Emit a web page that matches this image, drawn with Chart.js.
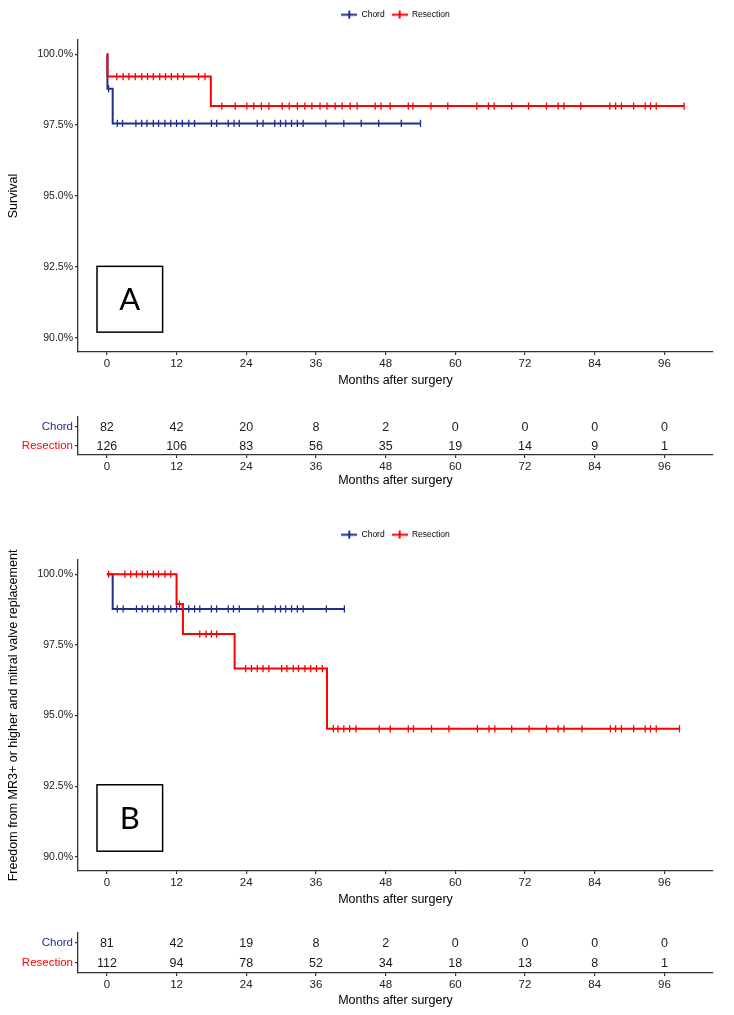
<!DOCTYPE html>
<html>
<head>
<meta charset="utf-8">
<script src="https://cdn.jsdelivr.net/npm/chart.js@4.4.1/dist/chart.umd.min.js"></script>
<style>
  html, body { margin: 0; padding: 0; background: #fff; }
  #page { position: relative; width: 734px; height: 1015px; overflow: hidden; background: #fff; }
  #page canvas { position: absolute; left: 0; }
</style>
</head>
<body>
<div id="page">
  <canvas id="km-a" width="734" height="395" style="top:0px"></canvas>
  <canvas id="risk-a" width="734" height="100" style="top:395px"></canvas>
  <canvas id="km-b" width="734" height="418" style="top:496px"></canvas>
  <canvas id="risk-b" width="734" height="105" style="top:910px"></canvas>
</div>
<script>
// ---- data ----
const groups = ["Chord", "Resection"];
const xTicks = [0, 12, 24, 36, 48, 60, 72, 84, 96];
const yTicks = [90, 92.5, 95, 97.5, 100];

// panel A: survival
const chordA_time = [0, 0.1, 1.0, 54.0];
const chordA_surv = [100, 98.78, 97.56, 97.56];
const chordA_cens = [0.3, 1.8, 2.7, 5.0, 6.0, 6.9, 8.0, 8.9, 10.0, 11.0, 12.0, 13.0, 14.1, 15.1, 18.0, 18.9,
  20.9, 21.9, 22.8, 25.9, 26.9, 28.9, 29.9, 30.8, 31.8, 32.8, 33.8, 37.7, 40.8, 43.8, 46.8, 50.7, 54.0];
const resA_time = [0, 0.1, 17.9, 99.4];
const resA_surv = [100, 99.21, 98.17, 98.17];
const resA_cens = [1.7, 2.8, 3.8, 4.9, 6.0, 7.0, 8.0, 9.1, 10.1, 11.1, 12.2, 13.2, 15.8, 16.9,
  19.8, 22.1, 24.1, 25.3, 26.6, 27.9, 30.2, 31.4, 32.8, 34.1, 35.3, 36.7, 37.9, 39.3, 40.5, 41.9, 43.1,
  46.2, 47.2, 48.8, 51.9, 52.7, 55.8, 58.7, 63.7, 65.7, 66.7, 69.7, 72.6, 75.7, 77.7, 78.7, 81.6,
  86.6, 87.6, 88.6, 90.7, 92.7, 93.6, 94.6, 99.4];
const chordA_risk = [82, 42, 20, 8, 2, 0, 0, 0, 0];
const resA_risk = [126, 106, 83, 56, 35, 19, 14, 9, 1];

// panel B: freedom from MR3+ or valve replacement
const chordB_time = [0, 1.0, 40.9];
const chordB_surv = [100, 98.77, 98.77];
const chordB_cens = [1.8, 2.8, 5.1, 6.1, 7.0, 8.0, 8.9, 10.0, 11.0, 12.0, 13.0, 14.1, 15.1, 16.0, 18.0, 18.9,
  20.9, 21.8, 22.8, 26.0, 26.9, 29.0, 29.9, 30.8, 31.8, 32.8, 33.8, 37.8, 40.9];
const resB_time = [0, 12.0, 13.1, 22.0, 37.9, 98.6];
const resB_surv = [100, 98.94, 97.88, 96.66, 94.53, 94.53];
const resB_cens = [0.3, 3.1, 4.1, 5.1, 6.1, 7.0, 8.0, 8.9, 10.0, 11.0, 12.5, 16.0, 17.1, 18.0, 18.9,
  23.9, 24.9, 25.9, 26.9, 27.9, 30.1, 31.0, 32.1, 33.0, 34.1, 35.1, 36.1, 37.1,
  39.0, 39.8, 40.8, 41.8, 42.9, 46.9, 48.8, 51.9, 52.8, 55.9, 58.9, 63.8, 65.8, 66.8, 69.7, 72.7,
  75.7, 77.7, 78.7, 81.8, 86.7, 87.6, 88.6, 90.7, 92.7, 93.6, 94.6, 98.6];
const chordB_risk = [81, 42, 19, 8, 2, 0, 0, 0, 0];
const resB_risk = [112, 94, 78, 52, 34, 18, 13, 8, 1];

// ---- look ----
const BLUE = "#1f2e8e";
const RED = "#ff0000";
const AXIS = "#333333";
const FONT = "'Liberation Sans', Arial, sans-serif";
const X_MIN = -4.97, X_MAX = 104.37;

function stepPoints(t, s) {
  return t.map((x, i) => ({ x: x, y: s[i] }));
}
function survAt(t, s, x) {
  let v = s[0];
  for (let i = 0; i < t.length; i++) if (t[i] <= x) v = s[i];
  return v;
}
function censPoints(t, s, c) {
  return c.map(x => ({ x: x, y: survAt(t, s, x) }));
}
function legendIcon(color) {
  const c = document.createElement("canvas");
  c.width = 16; c.height = 9;
  const g = c.getContext("2d");
  g.strokeStyle = color; g.lineWidth = 2;
  g.beginPath();
  g.moveTo(0, 4.5); g.lineTo(16, 4.5);
  g.moveTo(8, 0.5); g.lineTo(8, 8.5);
  g.stroke();
  return c;
}

const xAxis = (height) => ({
  type: "linear",
  min: X_MIN, max: X_MAX,
  afterBuildTicks: s => { s.ticks = xTicks.map(v => ({ value: v })); },
  afterFit: s => { s.height = height; },
  ticks: { color: "#1a1a1a", font: { family: FONT, size: 11.5 }, padding: 2, maxRotation: 0, autoSkip: false },
  grid: { drawOnChartArea: false, drawTicks: true, tickLength: 3, color: AXIS, lineWidth: 1.2 },
  border: { display: true, color: AXIS, width: 1.3 },
  title: { display: true, text: "Months after surgery", color: "#000", font: { family: FONT, size: 12.5 }, padding: { top: 0, bottom: 7 } }
});

// leaves extra room under the legend, like the ggplot layout
const legendGap = {
  id: "legendGap",
  beforeLayout(chart, args, opts) {
    const lg = chart.legend;
    if (!lg || lg._gapWrapped) return;
    const fit = lg.fit.bind(lg);
    lg.fit = function () { fit(); this.height += (opts.extra || 0); };
    lg._gapWrapped = true;
  }
};

// draws the boxed panel letter in data space
const panelBox = {
  id: "panelBox",
  afterDatasetsDraw(chart, args, opts) {
    if (!opts || !opts.text) return;
    const { x, y } = chart.scales;
    const ctx = chart.ctx;
    const l = x.getPixelForValue(opts.x0), r = x.getPixelForValue(opts.x1);
    const t = y.getPixelForValue(opts.y1), b = y.getPixelForValue(opts.y0);
    ctx.save();
    ctx.strokeStyle = "#000"; ctx.lineWidth = 1.5;
    ctx.strokeRect(l, t, r - l, b - t);
    ctx.fillStyle = "#000";
    ctx.font = "31px Lato, 'Open Sans', sans-serif";
    ctx.textAlign = "center"; ctx.textBaseline = "middle";
    ctx.fillText(opts.text, (l + r) / 2, (t + b) / 2 + 1);
    ctx.restore();
  }
};

// writes the at-risk counts on the points of the risk table
const riskNumbers = {
  id: "riskNumbers",
  afterDatasetsDraw(chart) {
    const ctx = chart.ctx;
    ctx.save();
    ctx.fillStyle = "#1a1a1a";
    ctx.font = "12.5px " + FONT;
    ctx.textAlign = "center"; ctx.textBaseline = "middle";
    chart.data.datasets.forEach((ds, di) => {
      chart.getDatasetMeta(di).data.forEach((pt, i) => {
        ctx.fillText(String(ds.data[i].n), pt.x, pt.y + 1);
      });
    });
    ctx.restore();
  }
};

function makeKM(id, cfg) {
  // first dataset is drawn on top, so the red curve goes first
  const datasets = [
    { label: "Resection", data: stepPoints(cfg.resT, cfg.resS), borderColor: RED, backgroundColor: RED,
      stepped: true, borderWidth: 2, pointRadius: 0, pointStyle: legendIcon(RED) },
    { label: "Chord", data: stepPoints(cfg.chordT, cfg.chordS), borderColor: BLUE, backgroundColor: BLUE,
      stepped: true, borderWidth: 2, pointRadius: 0, pointStyle: legendIcon(BLUE) },
    { label: "Resection censored", data: censPoints(cfg.resT, cfg.resS, cfg.resC), showLine: false,
      pointStyle: "line", rotation: 90, pointRadius: 3.6, borderColor: RED, borderWidth: 1.3 },
    { label: "Chord censored", data: censPoints(cfg.chordT, cfg.chordS, cfg.chordC), showLine: false,
      pointStyle: "line", rotation: 90, pointRadius: 3.6, borderColor: BLUE, borderWidth: 1.3 }
  ];
  const chart = new Chart(document.getElementById(id), {
    type: "line",
    data: { datasets: datasets },
    options: {
      responsive: false,
      animation: false,
      events: [],
      layout: { padding: { top: cfg.padTop, left: 0, right: 21, bottom: 0 } },
      plugins: {
        legend: {
          position: "top",
          fullSize: false,
          labels: {
            usePointStyle: true, pointStyleWidth: 16, padding: 7, color: "#000",
            font: { family: FONT, size: 8.5 },
            filter: item => item.datasetIndex < 2,
            sort: (a, b) => groups.indexOf(a.text) - groups.indexOf(b.text)
          }
        },
        legendGap: { extra: 11 },
        tooltip: { enabled: false },
        panelBox: cfg.box
      },
      scales: {
        x: xAxis(cfg.xAxisHeight),
        y: {
          type: "linear", min: 89.5, max: 100.5,
          afterBuildTicks: s => { s.ticks = yTicks.map(v => ({ value: v })); },
          afterFit: s => { s.width = 78; },
          ticks: { color: "#1a1a1a", font: { family: FONT, size: 10.5 }, padding: 2,
            callback: v => v.toFixed(1) + "%" },
          grid: { drawOnChartArea: false, drawTicks: true, tickLength: 3, color: AXIS, lineWidth: 1.2 },
          border: { display: true, color: AXIS, width: 1.3 },
          title: { display: true, text: cfg.yTitle, color: "#000", font: { family: FONT, size: 12.5 }, padding: { top: 6, bottom: 0 } }
        }
      }
    },
    plugins: [legendGap, panelBox]
  });
  // pin the plot area top to where the reference has it
  const diff = cfg.areaTop - chart.chartArea.top;
  if (Math.abs(diff) > 0.1) {
    chart.options.layout.padding.top = Math.max(0, cfg.padTop + diff);
    chart.update();
  }
  return chart;
}

function makeRisk(id, chordRisk, resRisk, areaTop, xAxisHeight) {
  new Chart(document.getElementById(id), {
    type: "scatter",
    data: {
      datasets: [
        { label: "Chord", data: xTicks.map((t, i) => ({ x: t, y: "Chord", n: chordRisk[i] })), pointRadius: 0 },
        { label: "Resection", data: xTicks.map((t, i) => ({ x: t, y: "Resection", n: resRisk[i] })), pointRadius: 0 }
      ]
    },
    options: {
      responsive: false,
      animation: false,
      events: [],
      layout: { padding: { top: areaTop, left: 0, right: 21, bottom: 0 } },
      plugins: { legend: { display: false }, tooltip: { enabled: false } },
      scales: {
        x: xAxis(xAxisHeight),
        y: {
          type: "category", labels: groups, offset: true,
          afterFit: s => { s.width = 78; },
          ticks: { font: { family: FONT, size: 11.5 }, padding: 2,
            color: c => (c.index === 0 ? BLUE : RED) },
          grid: { drawOnChartArea: false, drawTicks: true, tickLength: 3, color: AXIS, lineWidth: 1.2, offset: false },
          border: { display: true, color: AXIS, width: 1.3 }
        }
      }
    },
    plugins: [riskNumbers]
  });
}

makeKM("km-a", {
  chordT: chordA_time, chordS: chordA_surv, chordC: chordA_cens,
  resT: resA_time, resS: resA_surv, resC: resA_cens,
  yTitle: "Survival", padTop: 0, areaTop: 40, xAxisHeight: 43,
  box: { x0: -1.7, x1: 9.6, y0: 90.2, y1: 92.52, text: "A" }
});
makeRisk("risk-a", chordA_risk, resA_risk, 22, 40);

makeKM("km-b", {
  chordT: chordB_time, chordS: chordB_surv, chordC: chordB_cens,
  resT: resB_time, resS: resB_surv, resC: resB_cens,
  yTitle: "Freedom from MR3+ or higher and mitral valve replacement", padTop: 20, areaTop: 64, xAxisHeight: 43,
  box: { x0: -1.7, x1: 9.6, y0: 90.2, y1: 92.55, text: "B" }
});
makeRisk("risk-b", chordB_risk, resB_risk, 23, 42);
</script>
</body>
</html>
